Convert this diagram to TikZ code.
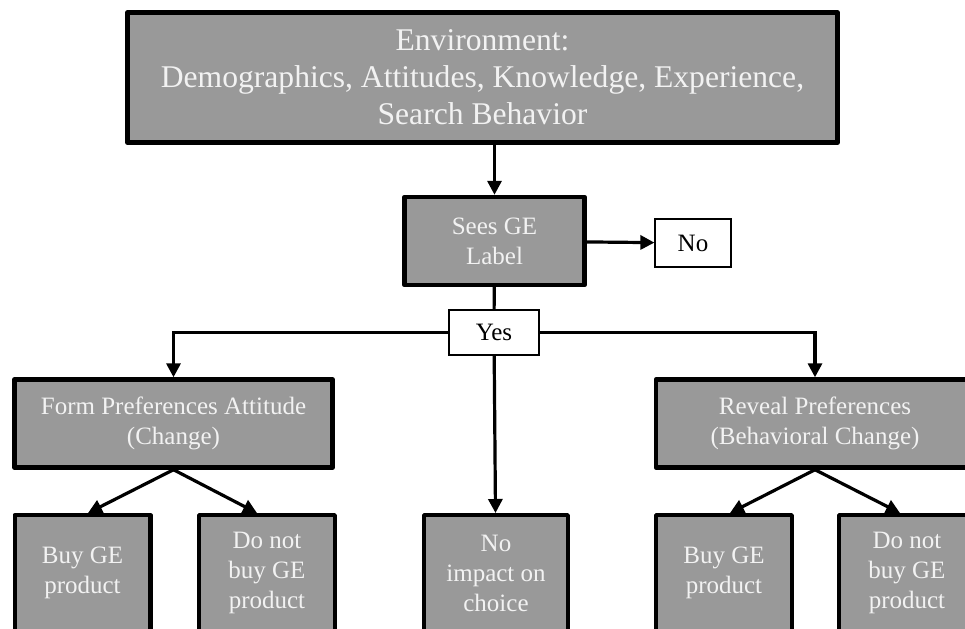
\documentclass[tikz,border=0pt]{standalone}
\usepackage{fontspec}
\setmainfont{Liberation Serif}
\usetikzlibrary{arrows.meta,positioning,calc}
\definecolor{boxgray}{HTML}{999999}
\definecolor{boxtext}{HTML}{F2F2F2}

\begin{document}
\begin{tikzpicture}[x=.5pt,y=-.5pt,
  gbox/.style={draw=black,fill=boxgray,line width=2.2pt,line join=round,text=boxtext,align=center,inner sep=0pt,font=\fontsize{12.5}{15}\selectfont},
  leaf/.style={gbox,minimum width=67.8pt,minimum height=57.8pt},
  wbox/.style={draw=black,fill=white,line width=.6pt,inner sep=0pt,font=\fontsize{12.5}{15}\selectfont},
  conn/.style={line width=1.6pt,-{Triangle[length=7pt,width=7pt]}}]
\clip (0,0) rectangle (965,628);
\useasboundingbox (0,0) rectangle (965,628);
% top and decision
\node[gbox,minimum width=355pt,minimum height=65pt,font=\fontsize{15.8}{18.5}\selectfont] (env) at (482.5,77.5) {Environment:\\Demographics, Attitudes, Knowledge, Experience,\\Search Behavior};
\node[gbox,minimum width=90pt,minimum height=44pt] (sees) at (494.5,241) {Sees GE\\Label};
\node[wbox,minimum width=38pt,minimum height=24pt] (no) at (693,243) {No};
\node[wbox,minimum width=45pt,minimum height=22.5pt] (yes) at (494,332.5) {Yes};
% middle row
\node[gbox,minimum width=159pt,minimum height=44pt] (form) at (173.5,423.5) {Form Preferences Attitude\\(Change)};
\node[gbox,minimum width=159pt,minimum height=44pt] (reveal) at (815,423.5) {Reveal Preferences\\(Behavioral Change)};
% leaves
\node[leaf] (buyl) at (82.5,573) {Buy GE\\product};
\node[leaf] (dontl) at (267,573) {Do not\\buy GE\\product};
\node[leaf,minimum width=71.8pt] (noimp) at (496,573) {No\\impact on\\choice};
\node[leaf] (buyr) at (724,573) {Buy GE\\product};
\node[leaf] (dontr) at (907,573) {Do not\\buy GE\\product};
% connectors
\draw[conn] (sees.north |- env.south) -- (sees);
\draw[conn] (sees) -- (no);
\draw[line width=1.6pt] (sees) -- (yes);
\draw[conn] (yes.west) -| (form.north);
\draw[conn] (yes.east) -| (reveal.north);
\draw[conn] (yes) -- (noimp);
\draw[conn] (form.south) -- ([xshift=2.75pt]buyl.north);
\draw[conn] (form.south) -- ([xshift=-5pt]dontl.north);
\draw[conn] (reveal.south) -- ([xshift=3pt]buyr.north);
\draw[conn] (reveal.south) -- ([xshift=-3.5pt]dontr.north);
\end{tikzpicture}
\end{document}
